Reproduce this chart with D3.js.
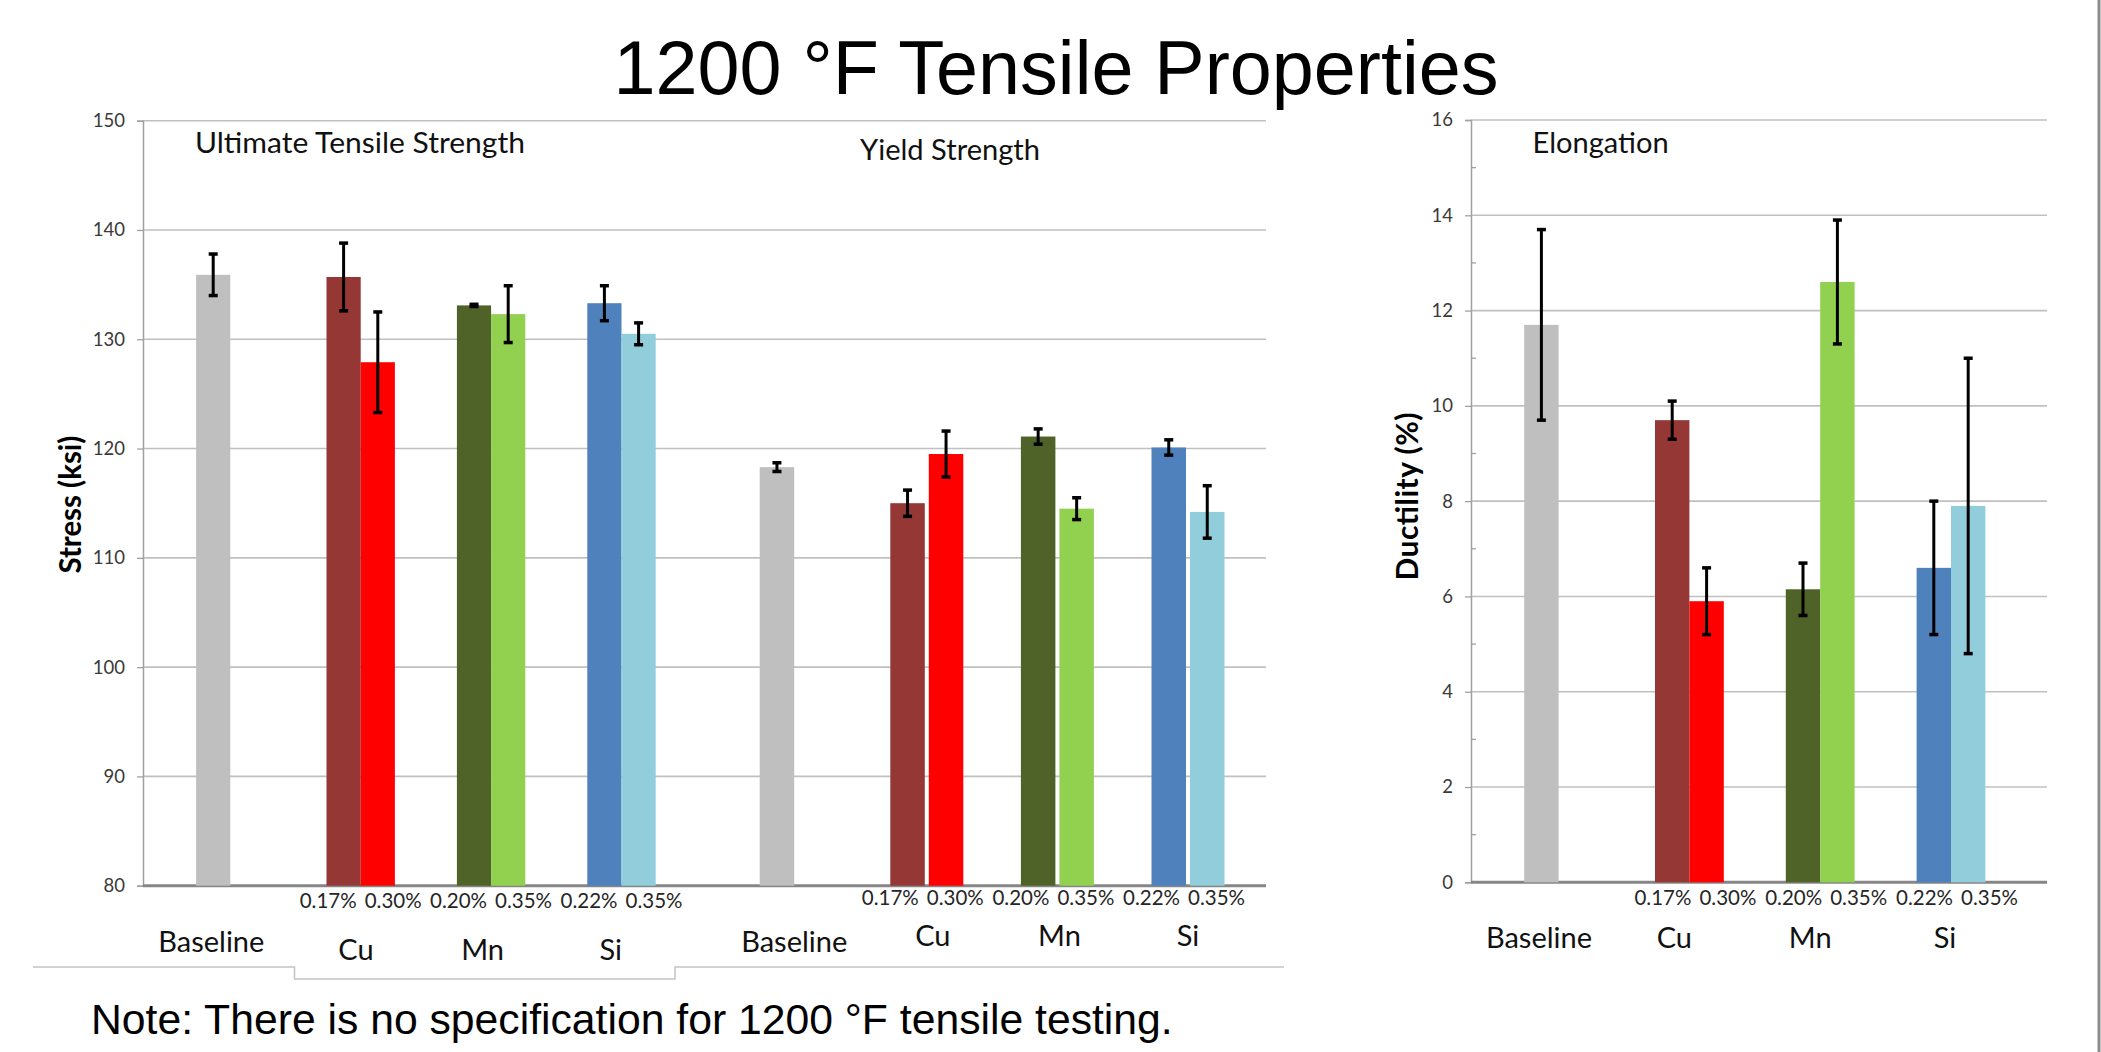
<!DOCTYPE html>
<html>
<head>
<meta charset="utf-8">
<script src="https://cdn.jsdelivr.net/npm/d3@7"></script>
<style>
  html, body { margin: 0; padding: 0; background: #fff; }
  svg { display: block; }
  .lbl { font-family: Lato, "Open Sans", sans-serif; }
  .arial { font-family: "Liberation Sans", Arial, sans-serif; }
</style>
</head>
<body>
<svg id="chart" width="2101" height="1052"></svg>
<script>
// ---- data -------------------------------------------------------------
const categories = ["Baseline", "Cu", "Mn", "Si"];
const levelLabels = [[], ["0.17%", "0.30%"], ["0.20%", "0.35%"], ["0.22%", "0.35%"]];
const stressTicks = [80, 90, 100, 110, 120, 130, 140, 150];
const ductilityTicks = [0, 2, 4, 6, 8, 10, 12, 14, 16];

// Ultimate tensile strength (ksi): mean and error half-width, [low, high] addition
const utsMean = [[135.9, null], [135.7, 127.9], [133.1, 132.3], [133.3, 130.5]];
const utsErr  = [[1.9, null],   [3.1, 4.6],     [0.1, 2.6],     [1.6, 1.0]];

// Yield strength (ksi)
const ysMean = [[118.3, null], [115.0, 119.5], [121.1, 114.5], [120.1, 114.2]];
const ysErr  = [[0.4, null],   [1.2, 2.1],     [0.7, 1.0],     [0.7, 2.4]];

// Elongation (%)
const elMean = [[11.7, null], [9.7, 5.9], [6.15, 12.6], [6.6, 7.9]];
const elErr  = [[2.0, null],  [0.4, 0.7], [0.55, 1.3],  [1.4, 3.1]];

// fill colours per category: [low, high]
const barColors = [["#BFBFBF", null], ["#953735", "#FF0000"], ["#4F6228", "#92D050"], ["#4F81BD", "#92CDDC"]];

// ---- drawing ----------------------------------------------------------
const svg = d3.select("#chart");
svg.append("rect").attr("width", 2101).attr("height", 1052).attr("fill", "#fff");

svg.append("text").attr("class", "arial")
  .attr("x", 1056).attr("y", 94).attr("text-anchor", "middle")
  .attr("font-size", 75.5).attr("fill", "#000")
  .text("1200 °F Tensile Properties");

svg.append("text").attr("class", "arial")
  .attr("x", 91).attr("y", 1034)
  .attr("font-size", 42.7).attr("fill", "#000")
  .text("Note: There is no specification for 1200 °F tensile testing.");

// right-hand border line
svg.append("line").attr("x1", 2099).attr("x2", 2099).attr("y1", 0).attr("y2", 1052)
  .attr("stroke", "#8c8c8c").attr("stroke-width", 3);

// grouping rule under the left chart's category labels
svg.append("path")
  .attr("d", d3.line()([[33, 967], [294.5, 967], [294.5, 979], [675, 979], [675, 967], [1284, 967]]))
  .attr("fill", "none").attr("stroke", "#c4c4c4").attr("stroke-width", 1.5);

function valueFrame(g, y, x0, x1, ticks, minor) {
  // gridlines
  g.append("g").selectAll("line").data(ticks.slice(1)).join("line")
    .attr("x1", x0).attr("x2", x1)
    .attr("y1", d => y(d)).attr("y2", d => y(d))
    .attr("stroke", "#c0c0c0").attr("stroke-width", 1.6);
  // axis with labels
  const ax = g.append("g").attr("transform", `translate(${x0},0)`)
    .call(d3.axisLeft(y).tickValues(ticks).tickSize(6).tickPadding(12).tickFormat(d3.format("d")));
  ax.select(".domain").attr("stroke", "#a0a0a0").attr("stroke-width", 1.5);
  ax.selectAll(".tick line").attr("stroke", "#a0a0a0").attr("stroke-width", 1.3);
  ax.selectAll(".tick text").attr("class", "lbl").attr("font-size", 18.5).attr("fill", "#3a3a3a");
  if (minor) {
    g.append("g").selectAll("line").data(minor).join("line")
      .attr("x1", x0).attr("x2", x0 + 5)
      .attr("y1", d => y(d)).attr("y2", d => y(d))
      .attr("stroke", "#a0a0a0").attr("stroke-width", 1.3);
  }
  // base line
  g.append("line").attr("x1", x0).attr("x2", x1)
    .attr("y1", y(ticks[0])).attr("y2", y(ticks[0]))
    .attr("stroke", "#868686").attr("stroke-width", 3);
}

function barSet(g, y, p, means, errs) {
  const x = d3.scaleBand().domain(categories).range(p.range).padding(0);
  const inner = d3.scaleBand().domain([0, 1]).range([-p.half, p.half]).paddingInner(p.gap);
  const rows = [];
  categories.forEach((c, i) => {
    [0, 1].forEach(s => {
      if (means[i][s] == null) return;
      rows.push({ c, i, s, v: means[i][s], e: errs[i][s], color: barColors[i][s] });
    });
  });
  const cx = d => x(d.c) + x.bandwidth() / 2 + inner(d.s);
  const base = y.domain()[0];
  g.append("g").selectAll("rect").data(rows).join("rect")
    .attr("x", d => cx(d)).attr("width", inner.bandwidth())
    .attr("y", d => y(d.v)).attr("height", d => y(base) - y(d.v))
    .attr("fill", d => d.color);
  const eg = g.append("g").attr("stroke", "#000");
  rows.forEach(d => {
    const xm = cx(d) + inner.bandwidth() / 2;
    eg.append("line").attr("x1", xm).attr("x2", xm)
      .attr("y1", y(d.v + d.e)).attr("y2", y(d.v - d.e)).attr("stroke-width", 3);
    [d.v + d.e, d.v - d.e].forEach(v => {
      eg.append("line").attr("x1", xm - 4.5).attr("x2", xm + 4.5)
        .attr("y1", y(v)).attr("y2", y(v)).attr("stroke-width", 3.5);
    });
  });
  // inner (addition level) labels
  categories.forEach((c, i) => {
    const cc = x(c) + x.bandwidth() / 2 + p.innerShift;
    levelLabels[i].forEach((t, k) => {
      g.append("text").attr("class", "lbl")
        .attr("x", cc + (k === 0 ? -32.5 : 32.5)).attr("y", p.innerY)
        .attr("text-anchor", "middle").attr("font-size", 20.5).attr("fill", "#262626")
        .text(t);
    });
    g.append("text").attr("class", "lbl")
      .attr("x", x(c) + x.bandwidth() / 2 + p.outerShift[i]).attr("y", p.outerY[i])
      .attr("text-anchor", "middle").attr("font-size", 29).attr("fill", "#111")
      .text(c);
  });
  g.append("text").attr("class", "lbl")
    .attr("x", p.titleX).attr("y", p.titleY)
    .attr("font-size", 28.5).attr("fill", "#111")
    .attr("textLength", p.titleLen).attr("lengthAdjust", "spacingAndGlyphs")
    .text(p.title);
}

// ---- left chart: stress --------------------------------------------------
const yStress = d3.scaleLinear().domain([80, 150]).range([885.7, 120.7]);
const gL = svg.append("g");
valueFrame(gL, yStress, 143, 1266, stressTicks, null);

barSet(gL, yStress, {
  range: [165.1, 686.7], half: 34.2, gap: 0, innerShift: 0, innerY: 908,
  outerShift: [-19, -4.7, -8.5, -10.7], outerY: [952, 960, 960, 960],
  title: "Ultimate Tensile Strength", titleX: 195, titleY: 153, titleLen: 330
}, utsMean, utsErr);

barSet(gL, yStress, {
  range: [730.9, 1253.3], half: 36.5, gap: 0.104, innerShift: -4, innerY: 905,
  outerShift: [-2, 6, 2, 0], outerY: [952, 946, 946, 946],
  title: "Yield Strength", titleX: 860, titleY: 160, titleLen: 180
}, ysMean, ysErr);

gL.append("text").attr("class", "lbl")
  .attr("transform", "translate(80.7,504.6) rotate(-90)")
  .attr("text-anchor", "middle").attr("font-size", 30).attr("font-weight", 700).attr("fill", "#000")
  .attr("textLength", 138).attr("lengthAdjust", "spacingAndGlyphs")
  .text("Stress (ksi)");

// ---- right chart: ductility ------------------------------------------------
const yDuct = d3.scaleLinear().domain([0, 16]).range([882.3, 120]);
const gR = svg.append("g");
valueFrame(gR, yDuct, 1471, 2047, ductilityTicks, d3.range(1, 16, 2));

barSet(gR, yDuct, {
  range: [1493.2, 2016.4], half: 34.4, gap: 0, innerShift: 6, innerY: 905,
  outerShift: [-19.6, -15, -10, -6], outerY: [948, 948, 948, 948],
  title: "Elongation", titleX: 1532.6, titleY: 153, titleLen: 136
}, elMean, elErr);

gR.append("text").attr("class", "lbl")
  .attr("transform", "translate(1418,496.5) rotate(-90)")
  .attr("text-anchor", "middle").attr("font-size", 30).attr("font-weight", 700).attr("fill", "#000")
  .attr("textLength", 168).attr("lengthAdjust", "spacing")
  .text("Ductility (%)");
</script>
</body>
</html>
